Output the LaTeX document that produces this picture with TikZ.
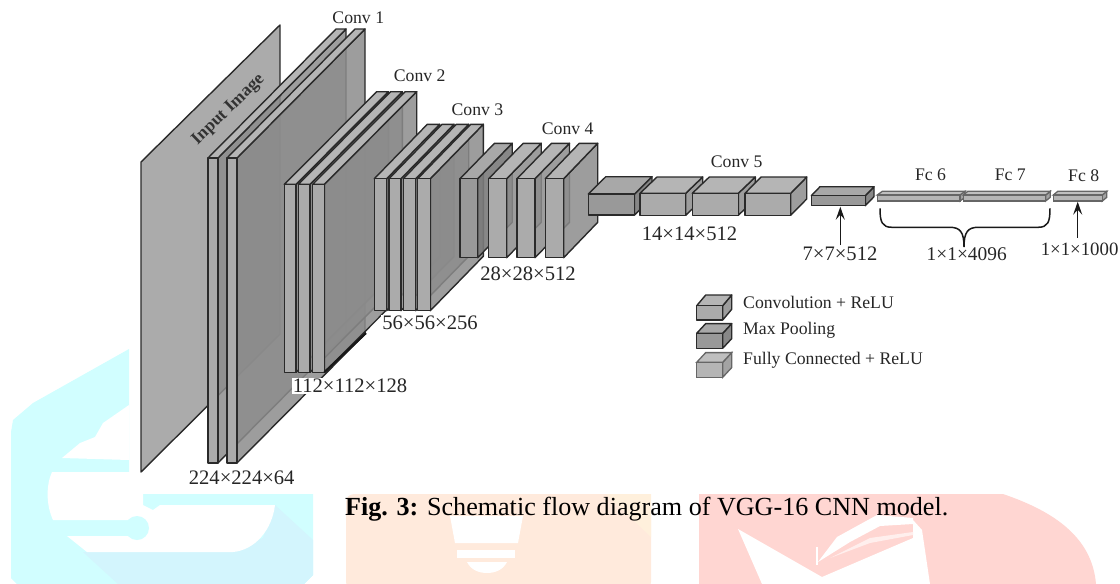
\documentclass[tikz,border=0pt]{standalone}
\usepackage{fontspec}
\setmainfont{Liberation Serif}
\usetikzlibrary{arrows.meta,calc,positioning}

\definecolor{edgegray}{HTML}{2A2A2A}
\definecolor{wmcyan}{HTML}{D1FEFF}
\definecolor{wmblue}{HTML}{D3F5FD}
\definecolor{wmorange}{HTML}{FFEADC}
\definecolor{wmcream}{HTML}{FFF0DC}
\definecolor{wmpink}{HTML}{FFD6D2}

\tikzset{
  edged/.style={draw=edgegray, line width=1.4pt, line join=round},
  convfront/.style={edged, fill=black!33},
  convtop/.style={edged, fill=black!29},
  convside/.style={edged, fill=black!45, fill opacity=.85},
  poolfront/.style={edged, fill=black!40},
  pooltop/.style={edged, fill=black!34},
  poolside/.style={edged, fill=black!52, fill opacity=.9},
  fcfront/.style={draw=black!60, line width=1.3pt, fill=black!29},
  fctop/.style={draw=black!60, line width=1.3pt, fill=black!25},
  fcside/.style={draw=black!60, line width=1.3pt, fill=black!36},
  blocklabel/.style={font=\fontsize{17.7}{20}\selectfont, text=black!85},
  dimlabel/.style={font=\fontsize{20.6}{23}\selectfont, text=black!85, inner sep=1pt},
  keylabel/.style={font=\fontsize{17.7}{20}\selectfont, text=black!85, anchor=west, inner sep=0pt},
  dimarrow/.style={-{Stealth[length=13pt,width=9pt,inset=5pt]}, line width=1.5pt, black!90}
}

% one slab: x left, x right, y top, y bottom, depth x, depth y, kind
\newcommand{\slab}[7]{%
  \filldraw[#7side] (#2,#3) -- ++(#5,-#6) -- ($(#2,#4)+(#5,-#6)$) -- (#2,#4) -- cycle;
  \filldraw[#7top] (#1,#3) -- ++(#5,-#6) -- ($(#2,#3)+(#5,-#6)$) -- (#2,#3) -- cycle;
  \filldraw[#7front] (#1,#3) rectangle (#2,#4);
}

\begin{document}
\begin{tikzpicture}[x=1pt,y=-1pt]
\useasboundingbox (0,0) rectangle (1120,584);

% logo behind the figure, cyan part
\fill[wmcyan] (129,349) -- (33,403) -- (13,420) -- (11,432) -- (11,578) -- (17,584)
  -- (304,584) -- (313,575) -- (313,494) -- (129,494) -- cycle;
\fill[wmblue] (275,505) -- (313,540) -- (313,575) -- (304,584) -- (118,584) -- (83,552)
  -- (233,552) -- (263,538) -- cycle;
\fill[white] (129,405) -- (103,423) -- (95,437) -- (80,443) -- (62,458) -- (129,460) -- cycle;
\fill[white] (143,472) -- (52,472) .. controls (46,485) and (46,505) .. (53,520) -- (128,520)
  -- (128,536) -- (67,536) -- (87,552) -- (233,552) .. controls (255,550) and (272,530) .. (275,505)
  -- (160,505) -- (153,510) -- (143,505) -- cycle;
\fill[wmcyan] (137,528) circle [radius=12];

% orange part
\fill[wmorange, rounded corners=8pt] (346,494) rectangle (651,590);
\fill[wmcream] (606,494) -- (651,494) -- (651,537) -- cycle;
\fill[white] (450,516) -- (523,516) -- (518,543) -- (455,543) -- cycle;
\fill[white] (457,550) rectangle (515,558);
\fill[white] (467,562) -- (507,562) .. controls (503,570) and (495,573) .. (487,573)
  .. controls (479,573) and (471,570) .. (467,562) -- cycle;

% pink part
\fill[wmpink] (699,494) -- (1003,494) .. controls (1050,510) and (1092,535) .. (1096,584) -- (699,584) -- cycle;
\fill[white] (738,529) -- (762,584) -- (930,584) -- (922,530) -- (913,520) -- (913,538) -- (822,577) -- cycle;
\fill[white] (818,562) -- (837,537) -- (877,515) -- (913,518) -- (913,524) -- (880,526) -- (850,542) -- cycle;
\fill[white!60!wmpink] (830,558) -- (870,538) -- (913,532) -- (913,535) -- (870,543) -- cycle;
\fill[white] (816,547) rectangle (818,565);

% input plane
\filldraw[edged, fill=black!33] (141,162) -- (280,25) -- (280,334) -- (141,472) -- cycle;
\node[font=\bfseries\fontsize{17.6}{20}\selectfont, text=black!80, rotate=44] (inputtext) at (228.5,110) {Input Image};

% conv 1
\slab{208}{218}{158}{463}{128}{129}{conv}
\slab{227}{237}{158}{463}{128}{129}{conv}
\node[blocklabel] (convone) at (358.3,17.3) {Conv 1};

% conv 2
\slab{284.3}{296}{184.3}{372.3}{92.4}{92.6}{conv}
\slab{298.3}{310}{184.3}{372.3}{92.4}{92.6}{conv}
\slab{312.7}{324.3}{184.3}{372.3}{92.4}{92.6}{conv}
\draw[line width=2.2pt, black!90] (324.3,372.3) -- (366,333);
\node[blocklabel] (convtwo) at (419.7,76) {Conv 2};

% conv 3
\slab{374.3}{386.7}{178.7}{310.7}{53}{54.4}{conv}
\slab{389}{401}{178.7}{310.7}{53}{54.4}{conv}
\slab{403.3}{415.7}{178.7}{310.7}{53}{54.4}{conv}
\slab{417.7}{430.3}{178.7}{310.7}{53}{54.4}{conv}
\node[blocklabel] (convthree) at (477.5,110) {Conv 3};

% conv 4
\slab{460}{477.7}{178.7}{257.7}{34.5}{35.4}{pool}
\slab{488.7}{506.7}{178.7}{257.7}{34.5}{35.4}{conv}
\slab{517}{535}{178.7}{257.7}{34.5}{35.4}{conv}
\slab{545.3}{563.7}{178.7}{257.7}{34}{35.4}{conv}
\node[blocklabel] (convfour) at (567.7,129) {Conv 4};

% conv 5
\slab{588.3}{634.5}{194}{215}{17.5}{17.3}{pool}
\slab{640}{685.7}{193.3}{215.3}{17}{16.3}{conv}
\slab{692.3}{738.3}{193.3}{215.3}{17}{16.3}{conv}
\slab{745}{790.7}{193.3}{215.3}{16}{16.3}{conv}
\node[blocklabel] (convfive) at (736.7,161.7) {Conv 5};

% pool and dense layers
\slab{811.3}{865.3}{195.7}{205.7}{8.7}{9}{pool}
\slab{877.3}{960}{195}{201}{5}{3.7}{fc}
\slab{963.3}{1045.7}{195}{201}{4.5}{3.7}{fc}
\slab{1053.3}{1102.3}{195}{201}{4.5}{3.7}{fc}
\node[blocklabel] (fcsix) at (930.5,175) {Fc 6};
\node[blocklabel] (fcseven) at (1010.3,175) {Fc 7};
\node[blocklabel] (fceight) at (1083.7,176) {Fc 8};

% sizes
\node[dimlabel] (dimone) at (241.7,477.3) {224×224×64};
\node[dimlabel, fill=white] (dimtwo) at (350,385.7) {112×112×128};
\node[dimlabel, fill=white] (dimthree) at (430,322.7) {56×56×256};
\node[dimlabel] (dimfour) at (528,273.3) {28×28×512};
\node[dimlabel] (dimfive) at (689.5,233.3) {14×14×512};
\node[dimlabel] (dimsix) at (840,253.3) {7×7×512};
\node[dimlabel, font=\fontsize{19.4}{23}\selectfont] (dimseven) at (966.7,254.3) {1×1×4096};
\node[dimlabel, font=\fontsize{18.8}{23}\selectfont] (dimeight) at (1079.6,249.3) {1×1×1000};

\coordinate (poolhead) at (840.3,206.7);
\coordinate (fchead) at (1077.7,201.7);
\draw[dimarrow] (dimsix.north -| poolhead) -- (poolhead);
\draw[dimarrow, shorten <=4pt] (dimeight.north -| fchead) -- (fchead);

\coordinate (braceleft) at (880,208.3);
\coordinate (braceright) at (1050,208.3);
\coordinate (bracetip) at (964,247);
\draw[line width=1.5pt, black!90] (braceleft) .. controls (880,222) and (882,227.3) .. (892,227.3)
  -- (950,227.3) .. controls (960,227.3) and (964,232) .. (bracetip)
  .. controls (964,232) and (968,227.3) .. (978,227.3)
  -- (1038,227.3) .. controls (1048,227.3) and (1050,222) .. (braceright);

% legend
\slab{696.7}{722.7}{305.7}{320}{9}{10.7}{conv}
\slab{696.7}{722.7}{333.3}{348.3}{9}{9.7}{pool}
\slab{696.7}{722.7}{362.3}{377.3}{9}{9.7}{fc}
\node[keylabel] (keyconv) at (743,302) {Convolution + ReLU};
\node[keylabel] (keypool) at (743,330) {Max Pooling};
\node[keylabel] (keyfc) at (743,360.3) {Fully Connected + ReLU};

\node[anchor=west, inner sep=0pt, font=\fontsize{26.1}{30}\selectfont] (caption) at (345,509.5) {\textbf{Fig. 3:} Schematic flow diagram of VGG-16 CNN model.};

\end{tikzpicture}
\end{document}
